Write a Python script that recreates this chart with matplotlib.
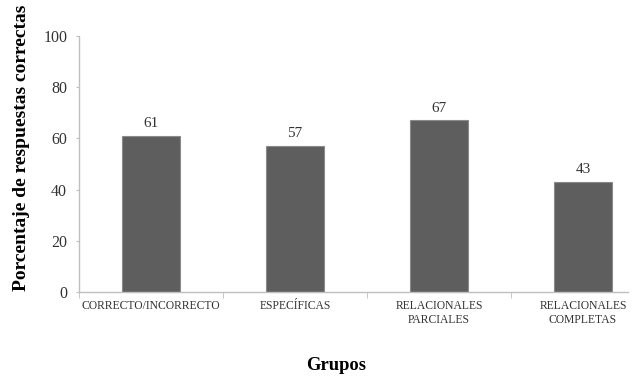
import matplotlib.pyplot as plt
import numpy as np

plt.rcParams["font.family"] = ["Liberation Serif", "DejaVu Serif"]

groups = ["CORRECTO/INCORRECTO", "ESPECÍFICAS", "RELACIONALES\nPARCIALES",
          "RELACIONALES\nCOMPLETAS"]
percent = [61, 57, 67, 43]
yticks = [0, 20, 40, 60, 80, 100]

fig = plt.figure(figsize=(6.37, 3.78), dpi=100)
ax = fig.add_axes([79 / 637, 86 / 378, 576 / 637, 256 / 378])

x = np.arange(len(groups))
ax.bar(x, percent, width=0.4, color="#5e5e5e", edgecolor="#8a8a8a",
       linewidth=0.8, zorder=2)
for xi, v in zip(x, percent):
    ax.text(xi, v + 2.3, str(v), ha="center", va="bottom", fontsize=11,
            color="#333333")

ax.set_xlim(-0.5, len(groups) - 0.5)
ax.set_ylim(0, 100)
ax.set_yticks(yticks)
ax.tick_params(axis="y", labelsize=11.5, length=2.5, color="#bfbfbf",
               labelcolor="#333333", pad=6)

# category labels sit at centres, tick marks at the boundaries
ax.set_xticks(x)
ax.set_xticklabels(groups, fontsize=8.4, color="#333333", linespacing=1.15)
ax.tick_params(axis="x", length=0, pad=6)
ax.set_xticks(np.arange(len(groups)) - 0.5, minor=True)
ax.tick_params(axis="x", which="minor", length=4, color="#bfbfbf")

for side in ("top", "right"):
    ax.spines[side].set_visible(False)
for side in ("left", "bottom"):
    ax.spines[side].set_color("#bfbfbf")
    ax.spines[side].set_linewidth(1.0)
ax.spines["bottom"].set_bounds(-0.5, 3.31)

fig.text(22 / 637, 1 - 148 / 378, "Porcentaje de respuestas correctas",
         rotation=90, ha="center", va="center", fontsize=14,
         fontweight="bold")
fig.text(336.5 / 637, 1 - 365 / 378, "Grupos", ha="center", va="center",
         fontsize=13.4, fontweight="bold")

fig.savefig("out.png", dpi=100)
